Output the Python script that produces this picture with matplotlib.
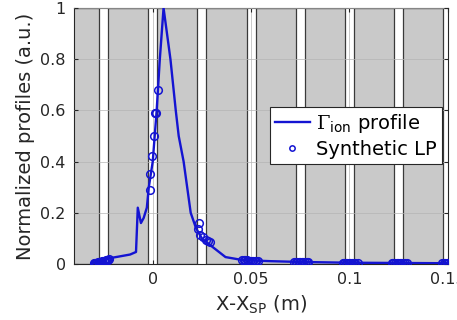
import numpy as np
import matplotlib
matplotlib.use("Agg")
import matplotlib.pyplot as plt

plt.rcParams["font.family"] = ["DejaVu Sans"]
plt.rcParams["mathtext.fontset"] = "custom"
plt.rcParams["mathtext.rm"] = "DejaVu Serif"
plt.rcParams["mathtext.sf"] = "DejaVu Sans"
plt.rcParams["mathtext.it"] = "DejaVu Serif:italic"

# -------------------------
# data
# -------------------------
# Gamma_ion profile (normalized)
prof_x = [-0.031, -0.028, -0.024, -0.018, -0.0115, -0.0085, -0.0076, -0.006, -0.0046,
          -0.003, -0.002, 0.0, 0.002, 0.0036, 0.0055, 0.009, 0.0117, 0.0132, 0.0157,
          0.0193, 0.022, 0.025, 0.029, 0.037, 0.046, 0.060, 0.075, 0.100, 0.125, 0.150]
prof_y = [0.002, 0.006, 0.020, 0.028, 0.037, 0.047, 0.220, 0.160, 0.180,
          0.220, 0.300, 0.400, 0.600, 0.800, 1.000, 0.800, 0.600, 0.500, 0.400,
          0.200, 0.140, 0.100, 0.075, 0.027, 0.015, 0.011, 0.008, 0.005, 0.004, 0.003]

# synthetic Langmuir probe samples
lp_x = [-0.0298, -0.0292, -0.0286, -0.028, -0.0274, -0.0268, -0.0262, -0.0256,
        -0.025, -0.0244, -0.0238, -0.0232, -0.0226, -0.022,
        -0.0015, -0.0015, -0.0005, 0.0005, 0.001, 0.0018, 0.0025,
        0.0228, 0.0233, 0.024, 0.0255, 0.027, 0.028, 0.029,
        0.0455, 0.0462, 0.047, 0.0478, 0.0486, 0.0494, 0.0502, 0.051, 0.0518, 0.0526, 0.0535,
        0.0718, 0.0726, 0.0734, 0.0742, 0.075, 0.0758, 0.0766, 0.0774, 0.0782, 0.079,
        0.0965, 0.0973, 0.0981, 0.0989, 0.0997, 0.1005, 0.1013, 0.1021, 0.1029, 0.1045,
        0.1215, 0.1223, 0.1231, 0.1239, 0.1247, 0.1255, 0.1263, 0.1271, 0.128, 0.129,
        0.147, 0.1478, 0.1486, 0.1494, 0.150]
lp_y = [0.003, 0.004, 0.005, 0.006, 0.007, 0.008, 0.009, 0.010,
        0.011, 0.012, 0.014, 0.015, 0.017, 0.018,
        0.29, 0.35, 0.42, 0.50, 0.59, 0.59, 0.68,
        0.135, 0.160, 0.115, 0.105, 0.095, 0.090, 0.085,
        0.016, 0.016, 0.015, 0.014, 0.013, 0.013, 0.012, 0.012, 0.011, 0.011, 0.011,
        0.009, 0.009, 0.009, 0.008, 0.008, 0.008, 0.007, 0.007, 0.006, 0.006,
        0.005, 0.005, 0.005, 0.005, 0.005, 0.004, 0.004, 0.004, 0.004, 0.004,
        0.004, 0.004, 0.004, 0.004, 0.003, 0.003, 0.003, 0.003, 0.003, 0.003,
        0.003, 0.003, 0.003, 0.003, 0.003]

# divertor tiles (gaps between them centred every 25 mm)
tile_left = [-0.05, -0.0227, 0.0023, 0.0273, 0.0523, 0.0773, 0.1023, 0.1273]
tile_right = [-0.0273, -0.0023, 0.0227, 0.0477, 0.0727, 0.0977, 0.1227, 0.1477]

x_ticks = [0, 0.05, 0.1, 0.15]
y_ticks = [0, 0.2, 0.4, 0.6, 0.8, 1]

BLUE = "#1414d2"

fig = plt.figure(figsize=(4.57, 3.2), dpi=100)
ax = fig.add_axes([0.162, 0.175, 0.818, 0.80])

for xl, xr in zip(tile_left, tile_right):
    ax.axvspan(xl, xr, facecolor="#c9c9c9", edgecolor="#3a3a3a", linewidth=0.9, zorder=0)

ax.grid(True, color="#b4b4b4", linewidth=0.7, alpha=0.7, zorder=1)
ax.set_axisbelow(False)

ax.plot(prof_x, prof_y, color=BLUE, linewidth=1.7, zorder=3,
        label=r"$\Gamma_{\mathsf{ion}}$ profile")
ax.plot(lp_x, lp_y, linestyle="none", marker="o", markersize=5.5,
        markerfacecolor="none", markeredgecolor=BLUE, markeredgewidth=1.1,
        zorder=4, label="Synthetic LP")

ax.set_xlim(-0.04, 0.15)
ax.set_ylim(0, 1)
ax.set_xticks(x_ticks)
ax.set_xticklabels(["0", "0.05", "0.1", "0.15"])
ax.set_yticks(y_ticks)
ax.set_yticklabels(["0", "0.2", "0.4", "0.6", "0.8", "1"])
ax.tick_params(direction="in", length=3, labelsize=11.5, colors="#262626",
               top=True, right=True, pad=6)
for sp in ax.spines.values():
    sp.set_color("#262626")
    sp.set_linewidth(0.8)

ax.set_xlabel(r"X-X$_{\mathsf{SP}}$ (m)", fontsize=14, color="#262626", labelpad=4)
ax.set_ylabel("Normalized profiles (a.u.)", fontsize=14, color="#262626", labelpad=4)

leg = ax.legend(loc="upper right", bbox_to_anchor=(0.984, 0.613), fontsize=14,
                frameon=True, fancybox=False, framealpha=1.0, edgecolor="#262626",
                handlelength=1.8, handletextpad=0.35, labelspacing=0.25,
                borderpad=0.25, borderaxespad=0.0, markerscale=0.7)
leg.get_frame().set_linewidth(0.8)
leg.set_zorder(10)

fig.savefig("out.png", dpi=100)
